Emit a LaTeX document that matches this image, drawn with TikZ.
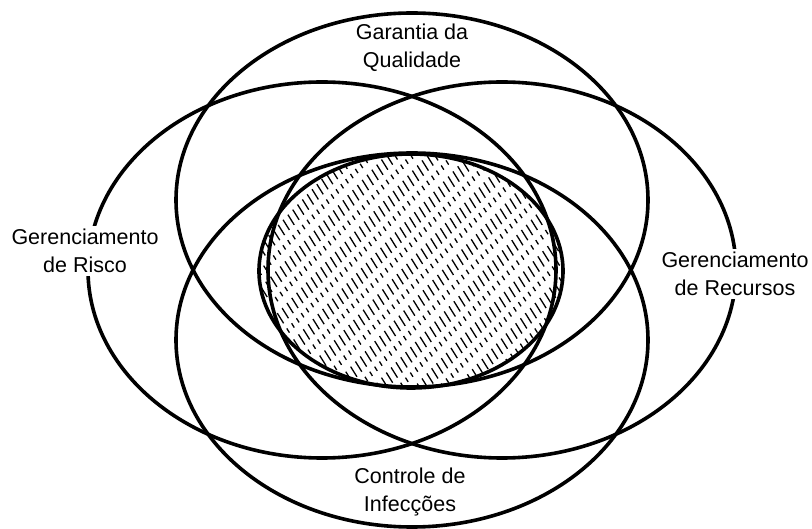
\documentclass[tikz,border=0pt]{standalone}
\usepackage{fontspec}
\setmainfont{Liberation Sans}
\usetikzlibrary{calc}

\begin{document}
\begin{tikzpicture}[x=1pt,y=-1pt,
      ring/.style={draw=black,line width=3.6pt},
      hatch/.style={draw=black,line width=1.3pt,dash pattern=on 12pt off 6pt on 5pt off 8pt},
      lbl/.style={align=center,inner sep=3pt,font=\fontsize{21.5}{28}\selectfont}]
    \useasboundingbox (0,0) rectangle (812,529);
    \coordinate (qual) at (412,200);
    \coordinate (infec) at (412,340);
    \coordinate (risco) at (322,270);
    \coordinate (recur) at (502,270);
    \coordinate (core) at (411,271);
    % hatched core
    \begin{scope}
      \clip (core) ellipse [x radius=152pt,y radius=117pt];
      \foreach \k in {-28,...,28} {
        \pgfmathsetmacro\ph{mod((\k+30)*37,31)}
        \draw[hatch,dash phase=\ph pt] ($(core)+(\k*8,0)+(-106,-170)$) -- ++(212,340);
      }
    \end{scope}
    \draw[ring] (qual) ellipse [x radius=236pt,y radius=187pt];
    \draw[ring] (infec) ellipse [x radius=236pt,y radius=187pt];
    \draw[ring] (risco) ellipse [x radius=234pt,y radius=188pt];
    \draw[ring] (recur) ellipse [x radius=234pt,y radius=188pt];
    \draw[ring] (core) ellipse [x radius=152pt,y radius=117pt];
    % labels
    \node[lbl] (qlbl) at (412,48) {Garantia da\\Qualidade};
    \node[lbl] (ilbl) at (410,492) {Controle de\\Infecções};
    \node[lbl,fill=white] (rlbl) at (85,251) {Gerenciamento\\de Risco};
    \node[lbl,fill=white] (reclbl) at (735,274) {Gerenciamento\\de Recursos};
  \end{tikzpicture}
\end{document}
